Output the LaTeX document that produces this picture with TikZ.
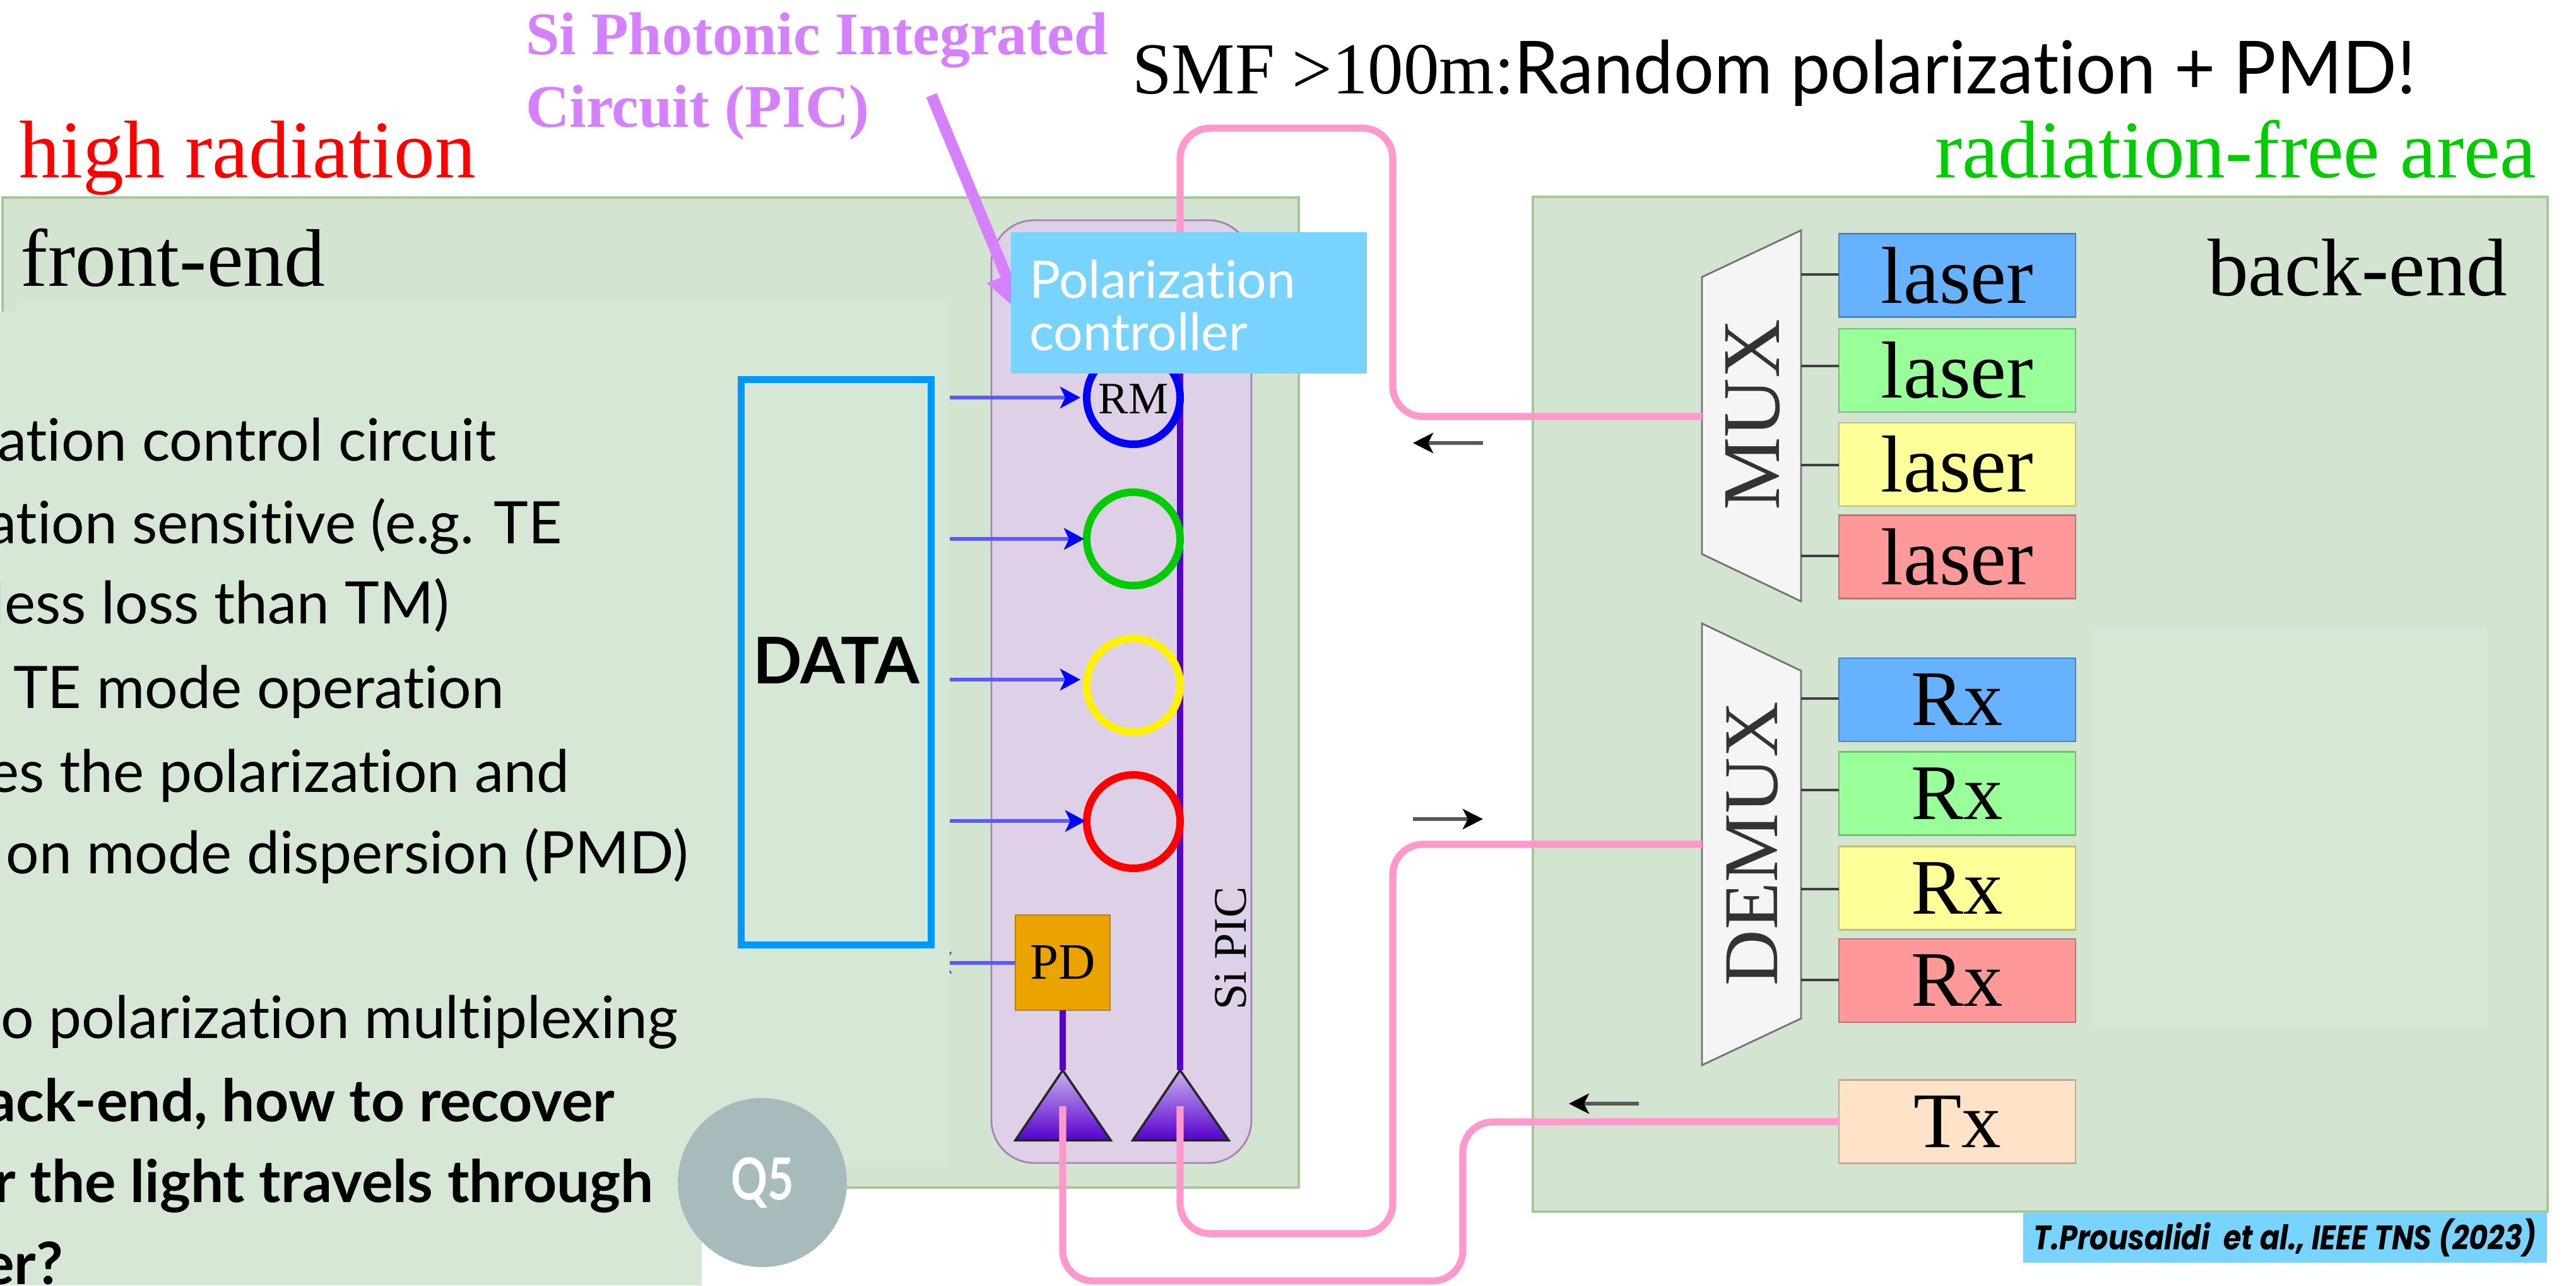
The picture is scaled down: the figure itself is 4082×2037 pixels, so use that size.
\documentclass[tikz,border=0pt]{standalone}
\usepackage{fontspec}
\setmainfont{Liberation Serif}
\newfontfamily\optima{Lato}[Ligatures=NoCommon,BoldFont={Lato Bold}]
\newfontfamily\citefont{Poppins}[BoldFont={Poppins Bold}]
\newfontfamily\qfont{Lato Bold}
\usetikzlibrary{arrows.meta,shapes.geometric,calc}
\definecolor{panelgreen}{HTML}{D3E5D0}
\definecolor{paneledge}{HTML}{A6C896}
\definecolor{overlaygreen}{HTML}{D7E7D6}
\definecolor{picfill}{HTML}{DED1E7}
\definecolor{picedge}{HTML}{A184B4}
\definecolor{capblue}{HTML}{78D3FF}
\definecolor{fibre}{HTML}{FF99CC}
\definecolor{guide}{HTML}{5500CC}
\definecolor{databox}{HTML}{0098FF}
\definecolor{lblue}{HTML}{66B2FF}
\definecolor{lgreen}{HTML}{99FF99}
\definecolor{lyellow}{HTML}{FFFF99}
\definecolor{lred}{HTML}{FF9999}
\definecolor{ltx}{HTML}{FFE3C8}
\definecolor{picviolet}{HTML}{D580FF}
\definecolor{pdfill}{HTML}{EBA300}
\definecolor{qgrey}{HTML}{A7BBBD}
\definecolor{ringgreen}{HTML}{00CC00}
\definecolor{sigblue}{HTML}{5A5AFF}
\tikzset{
  x=0.25pt,y=-0.25pt,
  every node/.style={outer sep=0pt},
  panel/.style={draw=paneledge,fill=panelgreen,line width=1pt},
  bodyline/.style={anchor=base east,inner sep=0,font=\optima\fontsize{23.2}{27}\selectfont},
  boldline/.style={anchor=base east,inner sep=0,font=\optima\bfseries\fontsize{23.2}{27}\selectfont},
  serif32/.style={anchor=base west,inner sep=0,font=\fontsize{32.4}{38}\selectfont},
  unit/.style={draw=#1!75!black,fill=#1,minimum width=93.75pt,minimum height=33pt,inner sep=0,line width=.7pt,font=\fontsize{32}{38}\selectfont},
  rxunit/.style={draw=#1!75!black,fill=#1,minimum width=93.75pt,minimum height=33pt,inner sep=0,line width=.7pt,font=\fontsize{31.2}{38}\selectfont},
  ring/.style={circle,draw=#1,line width=3pt,minimum size=37pt,inner sep=0},
  fibreline/.style={draw=fibre,line width=2.8pt,rounded corners=12pt},
  wave/.style={draw=guide,line width=2.6pt},
  sig/.style={draw=sigblue,line width=1.5pt,-{Stealth[length=8pt,width=8.5pt,inset=2pt,blue]}},
  dirarrow/.style={draw=black!65,line width=1.6pt,-{Stealth[length=8pt,width=8pt,inset=2pt,black]}},
  tap/.style={draw=black!75,line width=.9pt},
  muxshape/.style={draw=black!55,fill=black!4,line width=.7pt},
  gct/.style={draw=black!85,line width=.9pt,top color=guide!30!white,bottom color=guide},
}
\begin{document}
\begin{tikzpicture}
\useasboundingbox (0,0) rectangle (4082,2037);
\fill[white] (0,0) rectangle (4082,2037);
% panels
\node[panel,minimum width=513.5pt,minimum height=392.25pt,inner sep=0,anchor=north west] (front) at (4,313) {};
\node[panel,minimum width=402pt,minimum height=402pt,inner sep=0,anchor=north west] (back) at (2429,312) {};
\fill[overlaygreen] (3315,995) rectangle (3942,1630);
% Si PIC carrier
\node[draw=picedge,fill=picfill,line width=.7pt,rounded corners=17pt,minimum width=103pt,minimum height=373.5pt,inner sep=0,anchor=north west] (pic) at (1571,349) {};
% placeholder for connectors
\node[inner sep=0,minimum width=75.25pt,minimum height=224pt,anchor=north west] (data) at (1174.5,601) {};
\coordinate (gc1) at (1684,1696);
\coordinate (gc2) at (1870,1696);
\shade[gct] (gc1) -- (1609,1807) -- (1760,1807) -- cycle;
\shade[gct] (gc2) -- (1795,1807) -- (1947,1807) -- cycle;
\coordinate (bustop) at (1870,592);
\draw[wave] (bustop) -- (gc2);
\node[ring=blue] (r1) at (1796,630) {};
\node[ring=ringgreen] (r2) at (1796,854) {};
\node[ring=yellow] (r3) at (1796,1086) {};
\node[ring=red] (r4) at (1796,1302) {};
\node[draw=pdfill!80!black,fill=pdfill,minimum width=37.5pt,minimum height=37.75pt,inner sep=0,line width=.5pt,font=\fontsize{20.2}{24}\selectfont] (pd) at (1684,1525.5) {PD};
\draw[wave] (pd.south) -- (gc1);
\node[font=\fontsize{17.8}{20}\selectfont,inner sep=0] (rm) at (1796,632) {RM};
\node[rotate=90,inner sep=0,font=\fontsize{18.5}{22}\selectfont] (sipic) at (1950,1503) {Si PIC};
% signal arrows
\coordinate (e1) at (1712,630);
\coordinate (e2) at (1718,854);
\coordinate (e3) at (1712,1077);
\coordinate (e4) at (1720,1301);
\foreach \r in {e1,e2,e3,e4}{\draw[sig] (data.east |- \r) -- (\r);}
\draw[sig] (pd.west) -- (data.east |- pd.west);
% overlay text panel
\fill[overlaygreen] (0,494) rectangle (1505,1847);
\fill[overlaygreen] (27,478) rectangle (1505,1847);
\fill[overlaygreen] (0,1700) rectangle (1112,2037);
% data box
\node[draw=databox,line width=2.75pt,minimum width=75.25pt,minimum height=224pt,inner sep=0,anchor=north west] (databox) at (1174.5,601) {};
\node[inner sep=0,font=\optima\bfseries\fontsize{25.5}{30}\selectfont,anchor=base] (datalabel) at (1325,1083) {DATA};
% back-end units
\node[unit=lblue] (l1) at (3101.5,436.5) {laser};
\node[unit=lgreen] (l2) at (3101.5,587) {laser};
\node[unit=lyellow] (l3) at (3101.5,736) {laser};
\node[unit=lred] (l4) at (3101.5,882.5) {laser};
\node[rxunit=lblue] (x1) at (3101.5,1109) {Rx};
\node[rxunit=lgreen] (x2) at (3101.5,1257.5) {Rx};
\node[rxunit=lyellow] (x3) at (3101.5,1407.5) {Rx};
\node[rxunit=lred] (x4) at (3101.5,1554) {Rx};
\node[rxunit=ltx] (tx) at (3101.5,1777.5) {Tx};
\draw[muxshape] (2697,439) -- (2854,365) -- (2854,953) -- (2697,878) -- cycle;
\draw[muxshape] (2697,988) -- (2854,1063) -- (2854,1614) -- (2697,1688) -- cycle;
\coordinate (muxp) at (2697,660);
\coordinate (demuxp) at (2697,1338);
\node[rotate=90,inner sep=0,text=black!80,font=\fontsize{32.5}{38}\selectfont] (muxt) at (2778,657) {MUX};
\node[rotate=90,inner sep=0,text=black!80,font=\fontsize{30.7}{38}\selectfont] (demuxt) at (2777,1337) {DEMUX};
\foreach \n/\yy in {l1/435,l2/580,l3/737,l4/881,x1/1107,x2/1252,x3/1409,x4/1553}{
  \draw[tap] (2854,\yy) -- (\n.west |- 2854,\yy);}
% fibres
\coordinate (gc1f) at (1684,1753);
\coordinate (gc2f) at (1870,1753);
\coordinate (pcf) at (1870,368);
\draw[fibreline] (pcf) -- (1870,203) -- (2207,203) -- (2207,660) -- (muxp);
\draw[fibreline] (gc2f) -- (1870,1955) -- (2207,1955) -- (2207,1338) -- (demuxp);
\draw[fibreline] (gc1f) -- (1684,2030) -- (2318,2030) -- (2318,1778) -- (tx.west);
% direction arrows
\coordinate (a1s) at (2350,702); \coordinate (a1e) at (2239,702);
\coordinate (a2s) at (2239,1298); \coordinate (a2e) at (2350,1298);
\coordinate (a3s) at (2597,1749); \coordinate (a3e) at (2486,1749);
\draw[dirarrow] (a1s) -- (a1e);
\draw[dirarrow] (a2s) -- (a2e);
\draw[dirarrow] (a3s) -- (a3e);
% violet pointer
\coordinate (ptrs) at (1476,151);
\coordinate (ptre) at (1620,499);
\draw[picviolet,line width=4.5pt,-{Triangle[length=17pt,width=15pt]}] (ptrs) -- (ptre);
% polarization controller
\node[fill=capblue,minimum width=141pt,minimum height=56pt,inner sep=0,anchor=north west] (pc) at (1602,368) {};
\node[anchor=base west,inner sep=0,text=white,font=\optima\fontsize{20.5}{21}\selectfont] (pct) at (1631,472) {Polarization};
\node[anchor=base west,inner sep=0,text=white,font=\optima\fontsize{20.5}{21}\selectfont] (pct2) at (1631,555) {controller};
% titles
\node[serif32,text=red] (hr) at (31,281) {high radiation};
\node[serif32,text=black] (fe) at (33,453) {front-end};
\node[serif32,text=black] (be) at (3498,468) {back-end};
\node[serif32,text=ringgreen] (rf) at (3066,281) {radiation-free area};
\node[anchor=base west,inner sep=0,text=picviolet,font=\bfseries\fontsize{24}{29}\selectfont] (pl1) at (833,86) {Si Photonic Integrated};
\node[anchor=base west,inner sep=0,text=picviolet,font=\bfseries\fontsize{24}{29}\selectfont] (pl2) at (833,201) {Circuit (PIC)};
\node[anchor=base west,inner sep=0,font=\fontsize{29}{34}\selectfont] (smf) at (1794,148) {\scalebox{.9725}[1]{SMF >100m:{\optima Random polarization + PMD!}}};
% body text
\node[bodyline] (t1) at (786,730) {ation control circuit};
\node[bodyline] (t2) at (891,861) {ation sensitive (e.g. TE};
\node[bodyline] (t3) at (712,988) {less loss than TM)};
\node[bodyline] (t4) at (799,1122) {TE mode operation};
\node[bodyline] (t5) at (902,1255) {es the polarization and};
\node[bodyline] (t6) at (1091,1384) {on mode dispersion (PMD)};
\node[bodyline] (t7) at (1074,1645) {o polarization multiplexing};
\node[boldline] (t8) at (974,1777) {ack-end, how to recover};
\node[boldline] (t9) at (1036,1905) {r the light travels through};
\node[boldline] (t10) at (100,2035) {er?};
% Q5
\node[circle,fill=qgrey,minimum size=67pt,inner sep=0] (q5) at (1208,1874) {};
\node[inner sep=0,text=white] (q5t) at (q5) {\scalebox{.78}[1]{\qfont\fontsize{23}{27}\selectfont Q5}};
% citation
\node[fill=capblue,minimum width=207.5pt,minimum height=20pt,inner sep=0,anchor=north west] (cit) at (3206,1921) {};
\node[inner sep=0] (citt) at (3621,1961) {\scalebox{.856}[1]{\citefont\bfseries\itshape\fontsize{13.5}{16}\selectfont T.Prousalidi\ \ et al., IEEE TNS (2023)}};
\end{tikzpicture}
\end{document}
